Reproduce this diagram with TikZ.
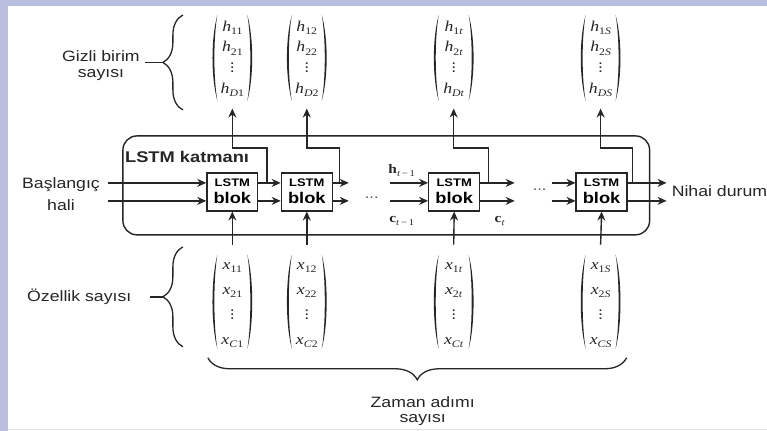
\documentclass[tikz,border=0pt]{standalone}
\usepackage{fontspec}
\setmainfont{Liberation Sans}
\newfontfamily\tms{Liberation Serif}
\usetikzlibrary{arrows.meta,decorations.pathreplacing}
\definecolor{ink}{HTML}{262626}
\definecolor{framecol}{HTML}{B9BEDF}
% horizontally widened text
\newcommand\wx[1]{\scalebox{1.18}[1]{#1}}
% italic entry with subscript
\newcommand\ent[2]{{\tms\itshape #1}\raisebox{-0.45ex}{\fontsize{10}{10}\selectfont\tms #2}}
% bold state label with subscript
\newcommand\bent[2]{{\tms\bfseries #1}\raisebox{-0.45ex}{\fontsize{9}{9}\selectfont\tms #2}}
% vertical ellipsis without its tall box
\newcommand\vdts{\raisebox{0pt}[0pt][0pt]{$\vdots$}}
% column vector body: row spacing, first, second and last entry
\newcommand\colvec[4]{\wx{\fontsize{15}{#1}\selectfont\begin{tabular}{@{}c@{}}#2\\#3\\\vdts\\#4\end{tabular}}}
% two curved parentheses around a vector node
\newcommand\parpair[2]{%
  \begin{scope}[shift={(#1.center)}]
    \fill[ink] (-15,-#2) .. controls (-21.5,-#2+24) and (-21.5,#2-24) .. (-15,#2)
               .. controls (-19,#2-24) and (-19,-#2+24) .. cycle;
    \fill[ink] (15,-#2) .. controls (21.5,-#2+24) and (21.5,#2-24) .. (15,#2)
               .. controls (19,#2-24) and (19,-#2+24) .. cycle;
  \end{scope}}
\tikzset{
  arr/.style={draw=ink, line width=1.4pt, -{Stealth[length=9pt,width=8pt]}},
  wire/.style={draw=ink, line width=1.4pt},
  lstmblk/.style={draw=ink, fill=white, line width=1.3pt, minimum width=51pt,
    minimum height=38pt, inner sep=0pt},
  layerbox/.style={draw=ink, line width=1.4pt, rounded corners=14pt,
    minimum width=527pt, minimum height=99pt, inner sep=0pt},
  vecnode/.style={inner sep=0pt, text=ink},
  lbl/.style={inner sep=0pt, text=ink, font=\fontsize{15}{16}\selectfont},
  bracedec/.style={draw=ink, line width=1.3pt, decorate,
    decoration={brace, amplitude=#1}},
}
\begin{document}
\begin{tikzpicture}[x=1pt, y=-1pt]
  % page background and frame strips
  \fill[white] (0,0) rectangle (767,431);
  \fill[framecol] (0,0) rectangle (767,6);
  \fill[framecol] (0,0) rectangle (8,431);
  \draw[black!12, line width=1pt] (8,429.5) -- (767,429.5);
  \useasboundingbox (0,0) rectangle (767,431);

  % LSTM layer frame
  \node[layerbox] (lay) at (386.5,185.5) {};
  \node[lbl, anchor=base west, font=\bfseries\fontsize{15.5}{16}\selectfont] (laytxt) at (125,163) {\wx{LSTM katmanı}};

  % LSTM blocks
  \foreach \n/\x in {b1/232.5, b2/307, bt/454.5, bS/602}{
    \node[lstmblk] (\n) at (\x,192)
      {\wx{\fontsize{15.5}{17}\selectfont\bfseries\begin{tabular}{@{}c@{}}{\fontsize{11}{11}\selectfont LSTM}\\blok\end{tabular}}};
  }

  % hidden state vectors
  \node[vecnode] (h1) at (232.5,58) {\colvec{20.7}{\ent{h}{11}}{\ent{h}{21}}{\ent{h}{\textit{D}1}}};
  \node[vecnode] (h2) at (307,58) {\colvec{20.7}{\ent{h}{12}}{\ent{h}{22}}{\ent{h}{\textit{D}2}}};
  \node[vecnode] (ht) at (454,58) {\colvec{20.7}{\ent{h}{1\textit{t}}}{\ent{h}{2\textit{t}}}{\ent{h}{\textit{Dt}}}};
  \node[vecnode] (hS) at (601,58) {\colvec{20.7}{\ent{h}{1\textit{S}}}{\ent{h}{2\textit{S}}}{\ent{h}{\textit{DS}}}};
  \foreach \n in {h1,h2,ht,hS}{\parpair{\n}{43}}

  % input feature vectors
  \node[vecnode] (x1) at (232.5,302) {\colvec{25}{\ent{x}{11}}{\ent{x}{21}}{\ent{x}{\textit{C}1}}};
  \node[vecnode] (x2) at (307,302) {\colvec{25}{\ent{x}{12}}{\ent{x}{22}}{\ent{x}{\textit{C}2}}};
  \node[vecnode] (xt) at (454,302) {\colvec{25}{\ent{x}{1\textit{t}}}{\ent{x}{2\textit{t}}}{\ent{x}{\textit{Ct}}}};
  \node[vecnode] (xS) at (601,302) {\colvec{25}{\ent{x}{1\textit{S}}}{\ent{x}{2\textit{S}}}{\ent{x}{\textit{CS}}}};
  \foreach \n in {x1,x2,xt,xS}{\parpair{\n}{47}}

  % side labels
  \node[lbl, anchor=base] (gizli) at (101,62)
    {\wx{\begin{tabular}[t]{@{}c@{}}Gizli birim\\sayısı\end{tabular}}};
  \node[lbl, anchor=base] (basl) at (61,189)
    {\wx{\fontsize{15}{22}\selectfont\begin{tabular}[t]{@{}c@{}}Başlangıç\\hali\end{tabular}}};
  \node[lbl, anchor=base west] (ozel) at (27,302) {\wx{Özellik sayısı}};
  \node[lbl, anchor=base west] (nihai) at (672,197) {\wx{Nihai durum}};
  \node[lbl, anchor=base] (zaman) at (423,408)
    {\wx{\fontsize{15}{15}\selectfont\begin{tabular}[t]{@{}c@{}}Zaman adımı\\sayısı\end{tabular}}};

  % braces
  \draw[bracedec=20pt] (183,110) -- (183,15);
  \draw[wire] (163,62.5) -- (145,62.5);
  \draw[bracedec=20pt] (183,347) -- (183,247);
  \draw[wire] (163,297) -- (150,297);
  \draw[bracedec=22pt] (627,358) -- (208,358);

  % state labels around block t
  \node[inner sep=0pt, text=ink, font=\fontsize{13}{13}\selectfont] (hprev) at (402,171) {\wx{\bent{h}{\textit{t}\,−\,1}}};
  \node[inner sep=0pt, text=ink, font=\fontsize{13}{13}\selectfont] (cprev) at (402,221) {\wx{\bent{c}{\textit{t}\,−\,1}}};
  \node[inner sep=0pt, text=ink, font=\fontsize{13}{13}\selectfont] (ccur) at (500,221) {\wx{\bent{c}{\textit{t}}}};

  % elided time steps
  \node[inner sep=0pt, anchor=base, text=ink!80, font=\fontsize{14}{14}\selectfont] (dots1) at (372,199) {\wx{...}};
  \node[inner sep=0pt, anchor=base, text=ink!80, font=\fontsize{14}{14}\selectfont] (dots2) at (540,191) {\wx{...}};

  % free ends of the state wires
  \coordinate (in1) at (108,183);  \coordinate (in2) at (108,201);
  \coordinate (o2a) at (349,183);  \coordinate (o2b) at (349,201);
  \coordinate (i3a) at (390,183);  \coordinate (i3b) at (390,201);
  \coordinate (o3a) at (515,183);  \coordinate (o3b) at (515,201);
  \coordinate (i4a) at (552,183);  \coordinate (i4b) at (552,201);
  \coordinate (o4a) at (667,183);  \coordinate (o4b) at (667,201);

  % recurrent hidden and cell state wires
  \draw[arr] (in1) -- ([yshift=9pt]b1.west);
  \draw[arr] (in2) -- ([yshift=-9pt]b1.west);
  \draw[arr] ([yshift=9pt]b1.east) -- ([yshift=9pt]b2.west);
  \draw[arr] ([yshift=-9pt]b1.east) -- ([yshift=-9pt]b2.west);
  \draw[arr] ([yshift=9pt]b2.east) -- (o2a);
  \draw[arr] ([yshift=-9pt]b2.east) -- (o2b);
  \draw[arr] (i3a) -- ([yshift=9pt]bt.west);
  \draw[arr] (i3b) -- ([yshift=-9pt]bt.west);
  \draw[arr] ([yshift=9pt]bt.east) -- (o3a);
  \draw[arr] ([yshift=-9pt]bt.east) -- (o3b);
  \draw[arr] (i4a) -- ([yshift=9pt]bS.west);
  \draw[arr] (i4b) -- ([yshift=-9pt]bS.west);
  \draw[arr] ([yshift=9pt]bS.east) -- (o4a);
  \draw[arr] ([yshift=-9pt]bS.east) -- (o4b);

  % hidden outputs branching up to the state vectors
  \coordinate (br1) at (267,183);  \coordinate (k1) at (267,148);
  \coordinate (br2) at (340,183);  \coordinate (k2) at (340,148);
  \coordinate (br3) at (489,183);  \coordinate (k3) at (489,148);
  \coordinate (br4) at (633,183);  \coordinate (k4) at (633,148);
  \draw[arr] (br1) -- (k1) -| ([yshift=-9pt]h1.south);
  \draw[arr] (br2) -- (k2) -| ([yshift=-9pt]h2.south);
  \draw[arr] (br3) -- (k3) -| ([yshift=-9pt]ht.south);
  \draw[arr] (br4) -- (k4) -| ([yshift=-9pt]hS.south);

  % inputs from the feature vectors
  \draw[arr] ([yshift=7pt]x1.north) -- (b1.south);
  \draw[arr] ([yshift=7pt]x2.north) -- (b2.south);
  \draw[arr] ([yshift=7pt]xt.north) -- (bt.south);
  \draw[arr] ([yshift=7pt]xS.north) -- (bS.south);
\end{tikzpicture}
\end{document}
